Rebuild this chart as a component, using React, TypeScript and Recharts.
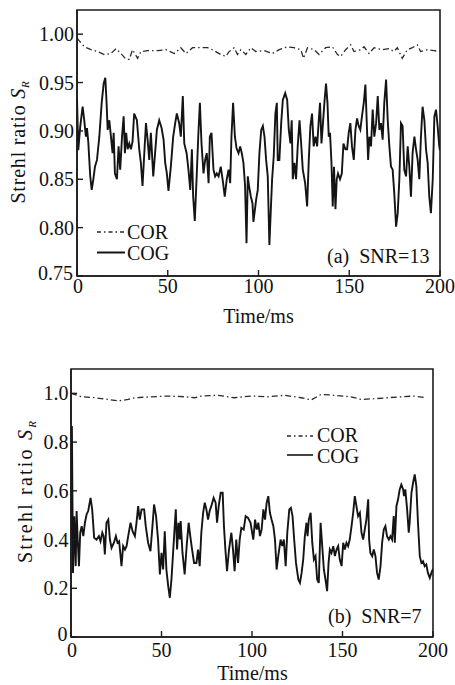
import React from 'react';
import { LineChart, Line, XAxis, YAxis, ReferenceArea } from 'recharts';

const FONT = '"Liberation Serif", "Times New Roman", serif';
const INK = '#1c1c1c';

// ---------- axis ticks ----------
const xTicks = [0, 50, 100, 150, 200];
const xTickLabels = ['0', '50', '100', '150', '200'];
const topYTicks = [0.75, 0.8, 0.85, 0.9, 0.95, 1.0];
const topYLabels = ['0.75', '0.80', '0.85', '0.90', '0.95', '1.00'];
const bottomYTicks = [0, 0.2, 0.4, 0.6, 0.8, 1.0];
const bottomYLabels = ['0', '0.2', '0.4', '0.6', '0.8', '1.0'];

// ---------- (a) SNR=13 ----------
const topCorT = [0, 4.0, 7.7, 11.4, 15.0, 18.7, 21.5, 24.2, 27.0, 28.8, 30.6, 33.4, 35.2, 38.9, 44.4, 49.0, 53.6, 57.2, 60.0, 63.7, 68.2, 71.9, 75.5, 79.2, 82.0, 83.8, 86.6, 88.4, 90.3, 93.0, 95.8, 98.5, 103.1, 107.7, 111.4, 115.9, 119.6, 123.3, 124.8, 127.0, 130.6, 133.4, 137.0, 140.7, 143.5, 145.3, 148.0, 150.8, 152.6, 156.3, 158.1, 160.9, 163.7, 168.2, 171.9, 174.6, 176.5, 179.2, 182.0, 184.8, 187.5, 189.3, 193.0, 196.7, 200];
const topCorV = [0.996, 0.987, 0.984, 0.982, 0.979, 0.98, 0.985, 0.98, 0.974, 0.974, 0.984, 0.975, 0.982, 0.983, 0.983, 0.984, 0.98, 0.986, 0.98, 0.986, 0.986, 0.986, 0.983, 0.979, 0.977, 0.982, 0.986, 0.979, 0.984, 0.979, 0.986, 0.982, 0.983, 0.98, 0.984, 0.987, 0.986, 0.984, 0.975, 0.986, 0.984, 0.979, 0.986, 0.987, 0.979, 0.977, 0.984, 0.989, 0.982, 0.984, 0.987, 0.98, 0.986, 0.984, 0.985, 0.982, 0.986, 0.975, 0.984, 0.986, 0.989, 0.982, 0.984, 0.983, 0.982];

const topCogT = [0, 0.7, 1.8, 3.1, 4.0, 4.9, 5.5, 6.2, 7.3, 8.1, 9.0, 9.9, 11.0, 12.3, 13.6, 14.7, 15.6, 16.3, 16.9, 17.8, 18.7, 19.6, 20.2, 20.9, 22.0, 22.9, 23.8, 24.8, 25.7, 26.4, 27.1, 27.9, 28.8, 29.7, 30.6, 31.5, 33.0, 34.3, 35.2, 36.1, 37.0, 38.0, 38.9, 39.8, 40.7, 42.0, 42.9, 44.0, 45.3, 46.6, 47.7, 48.6, 49.5, 50.4, 51.7, 53.0, 54.1, 55.0, 56.3, 57.2, 58.3, 59.1, 60.4, 61.4, 62.4, 63.3, 64.0, 64.9, 66.0, 66.8, 67.7, 68.6, 69.7, 70.6, 71.5, 72.5, 73.2, 74.1, 75.2, 76.1, 77.0, 78.0, 79.2, 80.5, 81.4, 82.5, 83.5, 84.4, 85.1, 86.0, 87.0, 87.9, 89.0, 89.9, 90.8, 91.7, 92.6, 93.4, 94.1, 94.8, 95.8, 96.7, 97.2, 98.7, 99.6, 100.5, 101.5, 102.4, 103.3, 104.2, 105.1, 106.0, 106.8, 107.5, 108.4, 109.3, 110.1, 110.6, 111.5, 112.5, 113.4, 114.7, 115.8, 116.7, 117.6, 118.3, 118.9, 119.8, 120.7, 121.6, 122.6, 123.5, 124.4, 125.7, 126.8, 127.7, 128.6, 129.5, 130.4, 131.4, 132.3, 133.2, 133.9, 134.7, 135.4, 136.3, 137.2, 138.0, 138.7, 139.4, 140.2, 140.9, 141.6, 142.4, 143.1, 143.8, 144.9, 145.9, 146.8, 147.9, 148.8, 149.7, 150.6, 151.5, 152.5, 153.4, 154.3, 155.2, 156.1, 157.0, 158.0, 158.9, 159.6, 160.4, 161.1, 162.0, 162.9, 163.8, 164.8, 165.7, 166.6, 167.5, 168.4, 169.3, 170.3, 171.2, 172.1, 173.0, 173.9, 174.8, 175.8, 176.7, 177.6, 178.5, 179.4, 180.3, 181.3, 182.2, 183.1, 184.0, 184.9, 185.9, 186.8, 187.7, 188.6, 189.5, 190.4, 191.4, 192.3, 193.2, 194.1, 195.0, 196.0, 196.9, 197.8, 198.7, 199.6, 200];
const topCogV = [0.934, 0.88, 0.905, 0.925, 0.911, 0.894, 0.903, 0.889, 0.853, 0.839, 0.85, 0.863, 0.87, 0.894, 0.929, 0.949, 0.955, 0.929, 0.901, 0.911, 0.894, 0.877, 0.898, 0.856, 0.85, 0.884, 0.86, 0.894, 0.915, 0.877, 0.898, 0.881, 0.887, 0.881, 0.889, 0.918, 0.911, 0.881, 0.867, 0.843, 0.874, 0.908, 0.891, 0.87, 0.898, 0.853, 0.874, 0.901, 0.911, 0.903, 0.891, 0.867, 0.856, 0.838, 0.863, 0.894, 0.908, 0.918, 0.908, 0.894, 0.936, 0.887, 0.877, 0.86, 0.839, 0.881, 0.832, 0.807, 0.856, 0.894, 0.929, 0.887, 0.856, 0.87, 0.877, 0.846, 0.894, 0.898, 0.86, 0.853, 0.856, 0.853, 0.863, 0.846, 0.832, 0.85, 0.86, 0.846, 0.894, 0.929, 0.894, 0.882, 0.877, 0.884, 0.877, 0.867, 0.843, 0.784, 0.853, 0.843, 0.832, 0.825, 0.806, 0.829, 0.839, 0.877, 0.901, 0.905, 0.894, 0.87, 0.853, 0.782, 0.819, 0.85, 0.874, 0.918, 0.929, 0.87, 0.87, 0.908, 0.932, 0.939, 0.932, 0.901, 0.887, 0.911, 0.85, 0.867, 0.85, 0.884, 0.911, 0.887, 0.86, 0.846, 0.822, 0.87, 0.905, 0.918, 0.884, 0.894, 0.884, 0.911, 0.929, 0.887, 0.905, 0.929, 0.949, 0.929, 0.894, 0.898, 0.867, 0.822, 0.863, 0.819, 0.85, 0.856, 0.85, 0.856, 0.887, 0.881, 0.881, 0.898, 0.908, 0.884, 0.87, 0.901, 0.913, 0.905, 0.901, 0.915, 0.929, 0.948, 0.911, 0.87, 0.894, 0.884, 0.922, 0.894, 0.908, 0.936, 0.901, 0.908, 0.891, 0.929, 0.953, 0.911, 0.884, 0.863, 0.86, 0.836, 0.801, 0.815, 0.85, 0.908, 0.905, 0.86, 0.853, 0.884, 0.863, 0.832, 0.877, 0.894, 0.881, 0.87, 0.85, 0.894, 0.925, 0.911, 0.881, 0.867, 0.832, 0.815, 0.85, 0.915, 0.922, 0.905, 0.884, 0.88];

// ---------- (b) SNR=7 ----------
const bottomCorT = [0, 5.9, 13.2, 20.6, 26.1, 31.6, 35.3, 44.5, 53.7, 62.8, 68.4, 72.0, 81.2, 90.4, 99.6, 108.8, 118.0, 127.2, 132.7, 138.2, 145.6, 154.7, 160.3, 167.6, 175.0, 182.3, 189.7, 196.1];
const bottomCorV = [1.0, 0.986, 0.982, 0.975, 0.969, 0.975, 0.982, 0.986, 0.989, 0.986, 0.982, 0.989, 0.992, 0.982, 0.989, 0.986, 0.992, 0.982, 0.973, 0.996, 0.992, 0.986, 0.975, 0.978, 0.982, 0.986, 0.989, 0.982];

const bottomCogT = [0, 0.5, 1.1, 1.8, 2.6, 3.1, 3.7, 4.4, 5.1, 5.9, 6.8, 7.7, 8.6, 9.5, 10.8, 11.7, 12.8, 14.1, 15.4, 16.3, 17.3, 18.0, 18.7, 19.6, 20.6, 21.5, 22.4, 23.7, 24.8, 25.7, 26.6, 27.9, 28.8, 29.8, 30.7, 31.6, 32.9, 34.0, 35.3, 36.2, 37.1, 38.0, 39.0, 40.4, 41.3, 42.6, 43.9, 45.0, 45.9, 47.0, 48.1, 49.1, 50.0, 50.9, 51.8, 52.7, 53.7, 54.6, 55.5, 56.4, 57.3, 57.9, 58.6, 59.4, 60.1, 60.6, 61.6, 62.8, 63.9, 65.0, 65.9, 66.9, 68.0, 69.3, 70.2, 71.1, 72.0, 73.0, 73.9, 74.8, 75.7, 76.6, 77.5, 78.8, 79.9, 80.7, 81.6, 82.7, 83.8, 84.5, 85.3, 86.2, 87.3, 88.6, 89.5, 90.4, 91.3, 92.3, 93.2, 94.1, 95.4, 96.5, 97.8, 99.2, 100.7, 101.7, 102.6, 103.5, 104.4, 105.3, 106.3, 107.2, 108.1, 109.0, 109.9, 110.8, 111.8, 112.7, 113.6, 114.5, 115.8, 116.7, 117.6, 118.6, 119.5, 120.6, 121.5, 122.4, 123.3, 124.3, 125.6, 126.5, 127.4, 128.3, 129.2, 130.1, 130.7, 131.4, 132.4, 133.3, 134.2, 135.1, 136.0, 136.9, 137.9, 138.8, 139.7, 140.6, 141.5, 142.3, 143.0, 143.9, 144.9, 145.8, 146.7, 147.6, 148.5, 149.5, 150.4, 151.3, 152.2, 153.1, 154.0, 155.0, 155.9, 156.8, 157.7, 158.6, 159.6, 160.5, 161.4, 162.3, 163.2, 164.2, 164.7, 165.4, 166.4, 167.3, 168.2, 169.1, 170.0, 171.0, 171.9, 172.8, 173.7, 174.6, 175.6, 176.5, 177.4, 178.3, 178.9, 179.8, 180.7, 181.6, 182.5, 183.5, 184.0, 184.7, 185.7, 186.6, 187.1, 188.1, 189.0, 189.9, 190.8, 191.7, 192.7, 193.6, 194.5, 195.4, 196.3, 197.2, 198.2, 199.1, 200];
const bottomCogV = [0.4, 0.866, 0.263, 0.496, 0.291, 0.517, 0.4, 0.291, 0.428, 0.455, 0.414, 0.469, 0.503, 0.517, 0.571, 0.524, 0.407, 0.4, 0.414, 0.393, 0.428, 0.414, 0.339, 0.469, 0.482, 0.4, 0.366, 0.387, 0.414, 0.387, 0.393, 0.291, 0.373, 0.359, 0.373, 0.414, 0.469, 0.434, 0.414, 0.469, 0.537, 0.482, 0.524, 0.524, 0.455, 0.387, 0.352, 0.455, 0.544, 0.496, 0.4, 0.257, 0.345, 0.277, 0.434, 0.277, 0.209, 0.161, 0.236, 0.345, 0.455, 0.524, 0.359, 0.469, 0.4, 0.476, 0.345, 0.257, 0.373, 0.469, 0.414, 0.359, 0.304, 0.304, 0.359, 0.291, 0.428, 0.51, 0.551, 0.524, 0.482, 0.517, 0.537, 0.571, 0.551, 0.469, 0.537, 0.592, 0.592, 0.455, 0.359, 0.27, 0.359, 0.428, 0.359, 0.27, 0.4, 0.304, 0.4, 0.448, 0.441, 0.496, 0.489, 0.469, 0.4, 0.482, 0.441, 0.469, 0.414, 0.441, 0.524, 0.482, 0.551, 0.578, 0.51, 0.482, 0.455, 0.4, 0.277, 0.332, 0.4, 0.373, 0.4, 0.291, 0.428, 0.524, 0.53, 0.496, 0.4, 0.304, 0.236, 0.222, 0.263, 0.318, 0.414, 0.469, 0.414, 0.482, 0.51, 0.387, 0.318, 0.332, 0.236, 0.222, 0.469, 0.373, 0.277, 0.236, 0.188, 0.304, 0.359, 0.345, 0.373, 0.332, 0.359, 0.373, 0.318, 0.291, 0.387, 0.359, 0.387, 0.373, 0.4, 0.455, 0.51, 0.578, 0.537, 0.496, 0.51, 0.428, 0.4, 0.441, 0.482, 0.565, 0.4, 0.345, 0.332, 0.359, 0.332, 0.263, 0.236, 0.291, 0.387, 0.441, 0.455, 0.414, 0.4, 0.414, 0.4, 0.496, 0.387, 0.537, 0.565, 0.606, 0.626, 0.606, 0.578, 0.606, 0.524, 0.428, 0.469, 0.592, 0.633, 0.667, 0.619, 0.469, 0.332, 0.304, 0.311, 0.291, 0.298, 0.263, 0.243, 0.263, 0.28];

const zip = (t: number[], v: number[]) => t.map((x, i) => ({ t: x, v: v[i] }));

const topCor = zip(topCorT, topCorV);
const topCog = zip(topCogT, topCogV);
const bottomCor = zip(bottomCorT, bottomCorV);
const bottomCog = zip(bottomCogT, bottomCogV);

const makeXTick = (dy: number) => (props: any) => {
  const { x, y, payload } = props;
  const idx = xTicks.indexOf(payload.value);
  return (
    <g>
      <line x1={x} x2={x} y1={y} y2={y - 6} stroke={INK} strokeWidth={1.4} />
      <text x={idx === 0 ? x + 1 : x} y={y + dy} textAnchor="middle" fontFamily={FONT} fontSize={20} fill="#111">
        {xTickLabels[idx]}
      </text>
    </g>
  );
};

const makeYTick = (ticks: number[], labels: string[], dx: number) => (props: any) => {
  const { x, y, payload } = props;
  const idx = ticks.findIndex((t) => Math.abs(t - payload.value) < 1e-9);
  return (
    <g>
      <line x1={x} x2={x + 6} y1={y} y2={y} stroke={INK} strokeWidth={1.4} />
      <text x={x - dx - (idx === 0 ? 1 : 0)} y={idx === 0 ? y - 3 : y} dy="0.35em" textAnchor="end"
        fontFamily={FONT} fontSize={20} fill="#111">
        {labels[idx]}
      </text>
    </g>
  );
};

const corStyle = { stroke: '#2a2a2a', strokeWidth: 1.3, strokeDasharray: '6 3 1.5 3' };
const cogStyle = { stroke: '#141414', strokeWidth: 1.9 };

export default function App() {
  return (
    <div style={{ position: 'absolute', left: 0, top: 0, width: 455, height: 685, background: '#fff', overflow: 'hidden' }}>
      <div style={{ position: 'absolute', left: 0, top: 0 }}>
        <LineChart width={455} height={340} margin={{ top: 10, right: 15, left: 0, bottom: 14 }}>
          <XAxis type="number" dataKey="t" domain={[0, 200]} ticks={xTicks} interval={0} height={50}
            tickLine={false} tickSize={0} tickMargin={0} axisLine={{ stroke: INK, strokeWidth: 1.6 }}
            tick={makeXTick(17)} allowDataOverflow />
          <YAxis type="number" dataKey="v" domain={[0.75, 1.025]} ticks={topYTicks} interval={0} width={77}
            tickLine={false} tickSize={0} tickMargin={0} axisLine={{ stroke: INK, strokeWidth: 1.6 }}
            tick={makeYTick(topYTicks, topYLabels, 3)} allowDataOverflow />
          <ReferenceArea x1={0} x2={200} y1={0.75} y2={1.025} fill="none" stroke={INK} strokeWidth={1.6} ifOverflow="visible" />
          <Line data={topCor} dataKey="v" type="linear" dot={false} isAnimationActive={false} {...corStyle} />
          <Line data={topCog} dataKey="v" type="linear" dot={false} isAnimationActive={false} {...cogStyle} />
        </LineChart>
      </div>
      <div style={{ position: 'absolute', left: 0, top: 340 }}>
        <LineChart width={455} height={345} margin={{ top: 29, right: 22, left: 0, bottom: 0 }}>
          <XAxis type="number" dataKey="t" domain={[0, 200]} ticks={xTicks} interval={0} height={48}
            tickLine={false} tickSize={0} tickMargin={0} axisLine={{ stroke: INK, strokeWidth: 1.6 }}
            tick={makeXTick(20)} allowDataOverflow />
          <YAxis type="number" dataKey="v" domain={[0, 1.1]} ticks={bottomYTicks} interval={0} width={71}
            tickLine={false} tickSize={0} tickMargin={0} axisLine={{ stroke: INK, strokeWidth: 1.6 }}
            tick={makeYTick(bottomYTicks, bottomYLabels, 2.5)} allowDataOverflow />
          <ReferenceArea x1={0} x2={200} y1={0} y2={1.1} fill="none" stroke={INK} strokeWidth={1.6} ifOverflow="visible" />
          <Line data={bottomCor} dataKey="v" type="linear" dot={false} isAnimationActive={false} {...corStyle} />
          <Line data={bottomCog} dataKey="v" type="linear" dot={false} isAnimationActive={false} {...cogStyle} />
        </LineChart>
      </div>
      <svg width={455} height={685} style={{ position: 'absolute', left: 0, top: 0, pointerEvents: 'none' }}
        fontFamily={FONT} fill="#111">
        {/* top chart texts */}
        <text transform="translate(25,142) rotate(-90)" textAnchor="middle" fontSize={20} letterSpacing={0.8}>
          Strehl ratio <tspan fontStyle="italic">S</tspan>
          <tspan fontStyle="italic" fontSize={11} dy={4}>R</tspan>
        </text>
        <text x={258.5} y={323} textAnchor="middle" fontSize={20}>Time/ms</text>
        <line x1={97} x2={125} y1={232} y2={232} stroke="#2a2a2a" strokeWidth={1.3} strokeDasharray="4 3 1.5 3" />
        <text x={127} y={238.5} fontSize={20}>COR</text>
        <line x1={97} x2={125} y1={252.5} y2={252.5} stroke="#141414" strokeWidth={2} />
        <text x={127} y={259.5} fontSize={20}>COG</text>
        <text x={327} y={263} fontSize={20} xmlSpace="preserve">(a)  SNR=13</text>

        {/* bottom chart texts */}
        <text transform="translate(32,491) rotate(-90)" textAnchor="middle" fontSize={20} letterSpacing={2.2}>
          Strehl ratio <tspan fontStyle="italic">S</tspan>
          <tspan fontStyle="italic" fontSize={11} dy={4}>R</tspan>
        </text>
        <text x={252.5} y={680} textAnchor="middle" fontSize={20}>Time/ms</text>
        <line x1={287} x2={313} y1={436} y2={436} stroke="#2a2a2a" strokeWidth={1.3} strokeDasharray="4 3 1.5 3" />
        <text x={317} y={441.5} fontSize={20}>COR</text>
        <line x1={287} x2={313} y1={455} y2={455} stroke="#141414" strokeWidth={1.6} />
        <text x={317} y={462.5} fontSize={20}>COG</text>
        <text x={328} y={622.5} fontSize={20} xmlSpace="preserve">(b)  SNR=7</text>
      </svg>
    </div>
  );
}
